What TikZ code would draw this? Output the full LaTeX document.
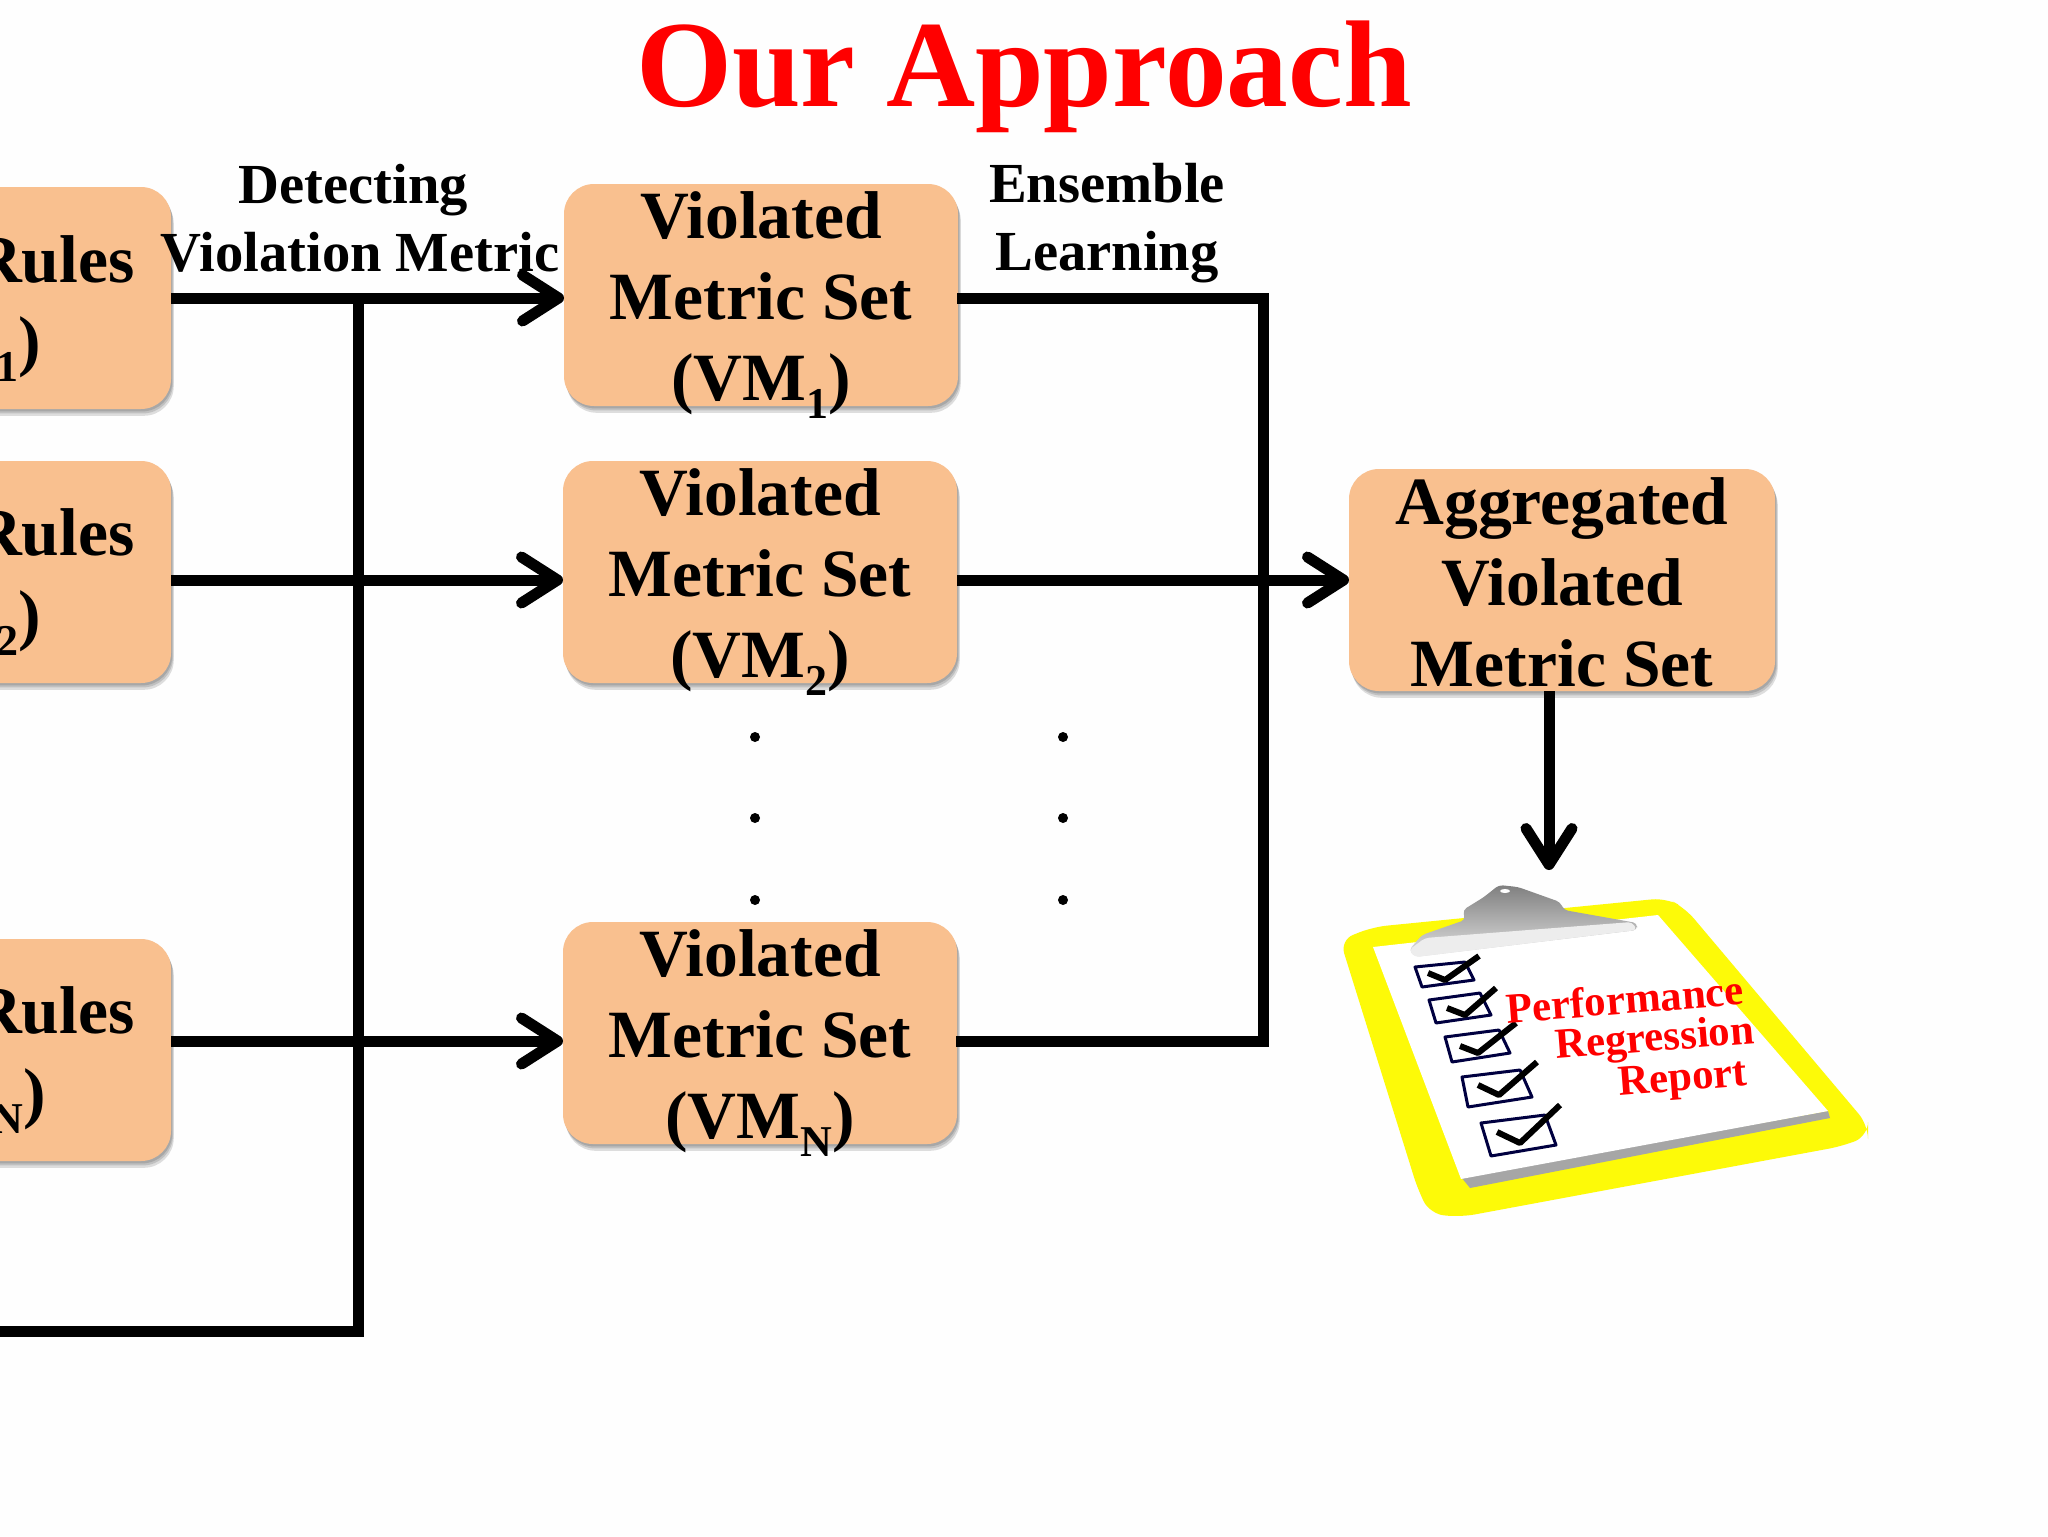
\documentclass[tikz,border=0pt]{standalone}
\usepackage{fontspec}
\setmainfont{Liberation Serif}
\usetikzlibrary{arrows.meta,shadows,positioning}
\definecolor{boxfill}{HTML}{F9C08F}
\definecolor{clipyellow}{HTML}{FDFA08}
\newcommand{\sbs}[1]{\raisebox{-0.28em}{\fontsize{22}{22}\selectfont #1}}
\newcommand{\topgap}[1]{\rule{0pt}{#1}}
\tikzset{
  x=0.5pt,y=-0.5pt,
  softshadow/.style={
    general shadow={shadow xshift=0.6pt,shadow yshift=-1.2pt,opacity=.13,fill=black},
    general shadow={shadow xshift=1pt,shadow yshift=-2.2pt,opacity=.13,fill=black},
    general shadow={shadow xshift=1.4pt,shadow yshift=-3.4pt,opacity=.13,fill=black}},
  flowbox/.style={draw=none,fill=boxfill,rounded corners=15pt,minimum width=#1,
    minimum height=111pt,inner xsep=0pt,inner ysep=-12pt,align=center,font=\boxfont,softshadow},
  boxtext/.style={inner sep=0pt,font=\boxfont},
  edgelabel/.style={inner sep=0pt,align=center,font=\labelfont},
  wire/.style={line width=5.5pt,draw=black},
  arrowwire/.style={wire,-{Straight Barb[length=18pt,width=23pt,line width=5.5pt,round]}},
  dotmark/.style={circle,fill=black,inner sep=0pt,minimum size=5pt},
  reporttext/.style={inner sep=0pt,text=red,font=\reportfont},
  checkbox/.style={draw=black!75!blue,line width=1.5pt,line join=round},
  tickmark/.style={draw=black,line width=3pt,line join=round},
}
\newcommand{\boxfont}{\fontsize{33.8}{40.5}\selectfont\bfseries}
\newcommand{\labelfont}{\fontsize{28.3}{34}\selectfont\bfseries}
\newcommand{\reportfont}{\fontsize{21.4}{22}\selectfont\bfseries}
\begin{document}
\begin{tikzpicture}
\path[use as bounding box] (0,0) rectangle (2048,1536);
\clip (0,0) rectangle (2048,1536);
\fill[white!99.5!black] (0,0) rectangle (2048,1536);

\node[inner sep=0pt,text=red,anchor=base,font=\fontsize{61.7}{66}\selectfont\bfseries] (title) at (1024,106) {Our Approach};

% left boxes
\node[flowbox=185pt] (r1) at (-14,298) {};
\node[flowbox=185pt] (r2) at (-14,572) {};
\node[flowbox=185pt] (r3) at (-14,1050) {};
\node[boxtext,anchor=base east] (r1a) at (135,282) {Rules};
\node[boxtext,anchor=base east] (r1b) at (41,363) {\sbs{1})};
\node[boxtext,anchor=base east] (r2a) at (135,555) {Rules};
\node[boxtext,anchor=base east] (r2b) at (41,637) {\sbs{2})};
\node[boxtext,anchor=base east] (r3a) at (135,1033) {Rules};
\node[boxtext,anchor=base east] (r3b) at (46,1115) {\sbs{N})};

% middle boxes
\node[flowbox=197pt] (v1) at (761,295) {\topgap{33.5pt}Violated\\Metric Set\\(VM\sbs{1})};
\node[flowbox=197pt] (v2) at (760,572) {\topgap{33.5pt}Violated\\Metric Set\\(VM\sbs{2})};
\node[flowbox=197pt] (v3) at (760,1033) {\topgap{33.5pt}Violated\\Metric Set\\(VM\sbs{N})};

% aggregate
\node[flowbox=213pt] (agg) at (1562,580) {\topgap{26pt}Aggregated\\Violated\\Metric Set};

% labels
\node[edgelabel] (l1) at (360,218) {Detecting\hspace*{6.5pt}\\Violation Metric};
\node[edgelabel] (l2) at (1107,223) {Ensemble\\Learning};

% coordinates
\coordinate (busa) at (358,298);
\coordinate (busb) at (358,1331);
\coordinate (busc) at (0,1331);
\coordinate (enda) at (1263,298);
\coordinate (endb) at (1263,1041);
\coordinate (r1e) at (171,298);
\coordinate (r2e) at (171,580);
\coordinate (r3e) at (171,1041);
\coordinate (v1w) at (564,298);
\coordinate (v2w) at (563,580);
\coordinate (v3w) at (563,1041);
\coordinate (v1e) at (957,298);
\coordinate (v2e) at (957,580);
\coordinate (v3e) at (956,1041);
\coordinate (aggw) at (1349,580);
\coordinate (aggs) at (1549,691);
\coordinate (repn) at (1549,870);

\draw[arrowwire] (r1e) -- (v1w);
\draw[arrowwire] (r2e) -- (v2w);
\draw[arrowwire] (r3e) -- (v3w);
\draw[wire,line join=miter] (busa) -- (busb) -- (busc);
\draw[wire,line join=miter] (v1e) -- (enda) -- (endb) -- (v3e);
\draw[arrowwire] (v2e) -- (aggw);
\draw[arrowwire] (aggs) -- (repn);

% dots
\foreach \n/\x/\y in {a/755/737,b/755/818,c/755/900,d/1063/737,e/1063/818,f/1063/900}
  \node[dotmark] (dot\n) at (\x,\y) {};

% clipboard
\fill[clipyellow,rounded corners=7pt] (1340,940) -- (1373,927) -- (1666,898) -- (1685,908) -- (1868,1125) -- (1868,1136) -- (1843,1146) -- (1461,1217) -- (1430,1214) -- (1418,1190) -- cycle;
\fill[black!35] (1461,1177) -- (1828,1111) -- (1830,1118) -- (1470,1188) -- cycle;
\fill[white] (1373,947) -- (1658,915) -- (1828,1111) -- (1461,1179) -- cycle;
% clip
\shade[top color=black!50,bottom color=black!12,rounded corners=2pt] (1409,950) -- (1422,935) -- (1465,920) -- (1463,910) -- (1484,897) -- (1499,885) -- (1518,887) -- (1560,902) -- (1564,910) -- (1637,923) -- (1637,930) -- (1415,957) -- cycle;
\fill[white!93!black,rounded corners=2pt] (1409,950) -- (1425,938) -- (1632,922) -- (1637,930) -- (1415,957) -- cycle;
\fill[white] (1505,891) ellipse [x radius=5,y radius=2];

% check boxes
\draw[checkbox] (1415,967) -- (1465,962) -- (1474,980) -- (1422,987) -- cycle;
\draw[tickmark] (1428,973) -- (1445,980) -- (1479,956);
\draw[checkbox] (1429,1000) -- (1480,993) -- (1491,1015) -- (1436,1023) -- cycle;
\draw[tickmark] (1447,1008) -- (1465,1015) -- (1496,988);
\draw[checkbox] (1445,1037) -- (1499,1030) -- (1510,1053) -- (1452,1062) -- cycle;
\draw[tickmark] (1460,1046) -- (1478,1053) -- (1516,1023);
\draw[checkbox] (1462,1077) -- (1520,1070) -- (1532,1097) -- (1468,1107) -- cycle;
\draw[tickmark] (1478,1085) -- (1499,1095) -- (1537,1062);
\draw[checkbox] (1481,1123) -- (1545,1115) -- (1556,1145) -- (1491,1156) -- cycle;
\draw[tickmark] (1497,1132) -- (1520,1143) -- (1560,1105);

\node[reporttext,rotate=4.5] (p1) at (1625,999) {Performance};
\node[reporttext,rotate=4.5] (p2) at (1655,1041) {Regression};
\node[reporttext,rotate=4.5] (p3) at (1683,1081) {Report};
\end{tikzpicture}
\end{document}
